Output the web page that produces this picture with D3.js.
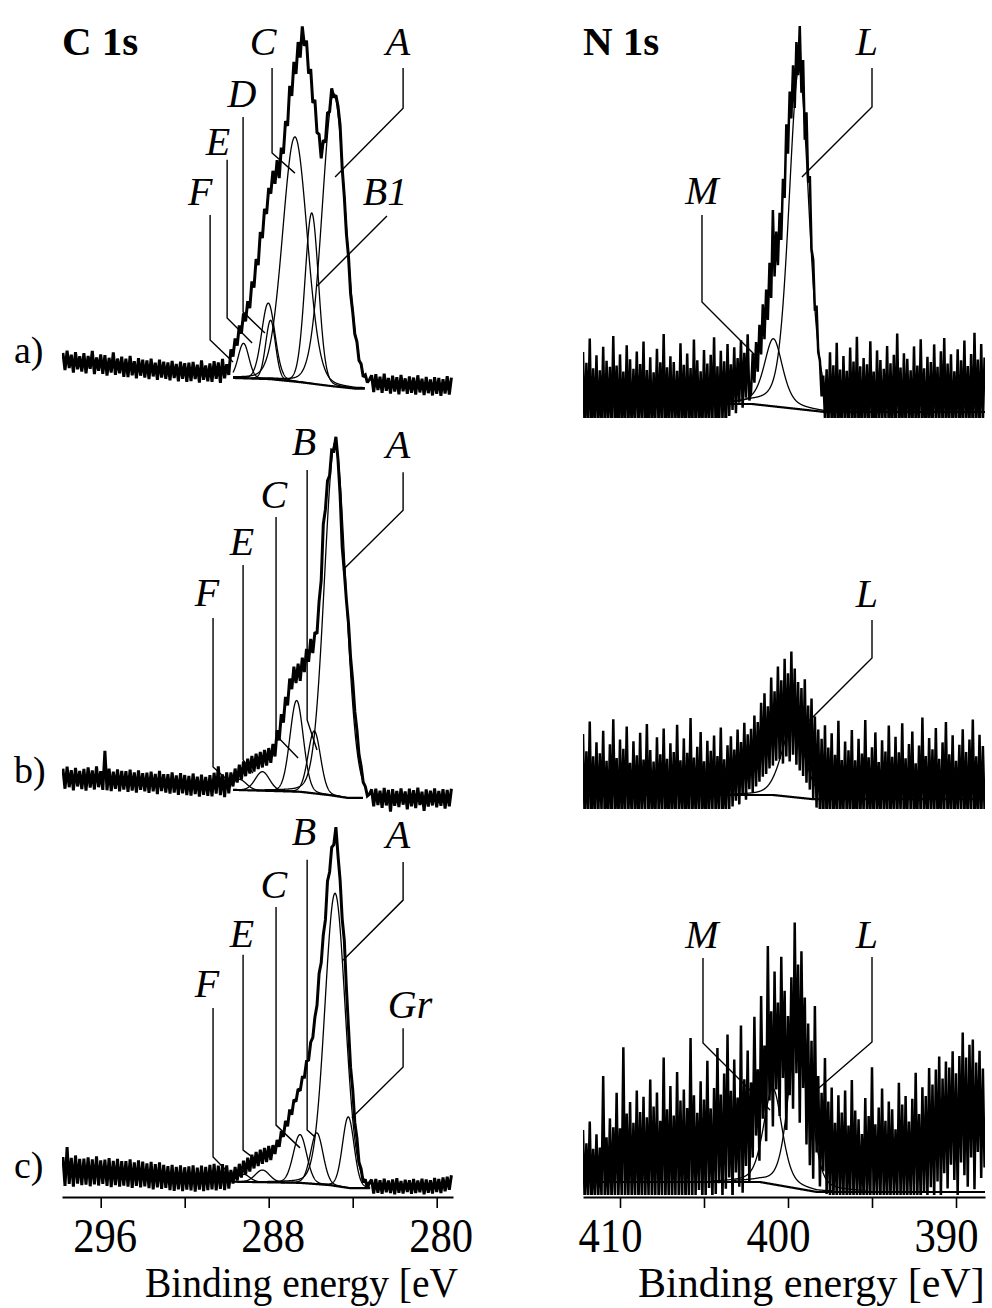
<!DOCTYPE html>
<html><head><meta charset="utf-8">
<script src="https://cdn.jsdelivr.net/npm/d3@7"></script>
<style>
html,body{margin:0;padding:0;background:#fff;}
svg{display:block;background:#fff;}
text{font-family:"Liberation Serif","Times New Roman",serif;fill:#000;}
</style></head><body>
<svg id="chart" width="992" height="1308" font-family="Liberation Serif, Times New Roman, serif"></svg>
<script>
// ---------- energy grids (eV) ----------
const C1S_START = 297.8, C1S_STEP = 0.1;
const N1S_START = 412.2, N1S_STEP = 0.1;

// ---------- measured spectra (arbitrary intensity units) ----------
const c1sA = [
12.4, 7.9, 13.0, 8.4, 11.9, 7.2, 12.6, 8.1, 11.5, 7.5,
12.3, 7.0, 11.6, 8.2, 12.9, 6.8, 11.2, 7.7, 12.0, 6.9,
11.8, 6.4, 11.1, 7.2, 12.5, 6.6, 10.9, 7.0, 11.4, 6.1,
10.9, 6.0, 11.6, 6.5, 10.2, 5.7, 11.0, 6.4, 10.6, 5.9,
10.4, 5.5, 10.9, 6.2, 9.8, 5.3, 10.6, 5.9, 10.1, 5.6,
9.9, 5.2, 10.3, 5.8, 9.5, 4.9, 10.1, 5.6, 9.7, 4.8,
9.8, 5.0, 10.0, 5.5, 9.3, 4.6, 10.4, 5.3, 9.1, 4.9,
9.6, 4.8, 10.2, 5.6, 9.9, 4.5, 10.8, 5.7, 9.4, 6.6,
13.3, 11.4, 16.2, 14.3, 19.6, 17.5, 22.8, 20.7, 26.0, 24.2,
31.2, 29.6, 37.1, 35.5, 44.2, 42.6, 50.3, 49.0, 55.8, 54.3,
60.3, 56.9, 63.1, 58.4, 66.4, 64.8, 73.4, 72.1, 82.7, 80.0,
89.0, 85.8, 94.2, 90.1, 98.3, 93.2, 94.6, 85.9, 87.1, 78.2,
79.0, 70.4, 69.9, 63.6, 68.4, 67.8, 75.5, 75.9, 82.0, 79.6,
80.2, 77.3, 72.3, 60.9, 53.5, 43.8, 37.7, 28.0, 23.2, 17.3,
15.4, 10.4, 9.5, 6.1, 6.6, 4.6, 5.4,
6.5, 2.1, 6.8, 2.6, 6.1, 1.9, 6.9, 2.4, 5.8, 1.7,
6.4, 2.2, 6.0, 1.5, 6.6, 2.3, 5.7, 1.6, 6.2, 1.9,
5.9, 1.4, 6.5, 2.0, 5.6, 1.3, 6.1, 1.8, 5.4, 1.2,
6.0, 1.6, 5.8, 1.1, 5.5, 1.7, 6.3, 1.4, 5.9
];
const c1sB = [
10.9, 5.6, 11.4, 6.0, 10.5, 5.2, 11.1, 6.2, 10.3, 5.5,
10.8, 5.1, 11.2, 5.9, 10.4, 5.4, 11.5, 6.0, 10.2, 5.3,
15.6, 5.2, 10.9, 5.0, 10.1, 5.6, 10.7, 4.9, 10.3, 5.4,
10.2, 4.8, 10.6, 5.1, 9.9, 4.6, 10.4, 5.3, 9.7, 4.9,
9.8, 4.5, 10.1, 4.9, 9.5, 4.2, 10.3, 5.0, 9.4, 4.6,
9.4, 4.3, 9.9, 4.6, 9.1, 4.0, 9.7, 4.4, 9.2, 3.9,
9.0, 3.8, 9.6, 4.2, 8.8, 3.5, 9.3, 4.0, 8.7, 3.7,
9.2, 3.6, 9.8, 4.3, 11.5, 3.9, 9.4, 3.4, 9.9, 4.4,
9.9, 6.2, 10.9, 7.2, 11.9, 8.0, 12.8, 8.9, 13.5, 9.6,
14.2, 10.1, 14.8, 10.8, 15.3, 11.2, 15.8, 11.7, 16.3, 12.4,
17.4, 14.1, 21.0, 18.3, 25.2, 23.0, 29.8, 27.5, 34.6, 31.8,
37.7, 33.4, 38.5, 34.0, 40.1, 36.3, 42.4, 39.0, 45.0, 41.3,
46.8, 46.4, 55.0, 60.4, 75.2, 79.1, 86.6, 88.0, 94.7, 94.5,
98.2, 92.2, 83.0, 69.2, 62.7, 55.2, 49.1, 40.1, 34.0, 26.0,
21.1, 14.6, 11.6, 7.3, 6.2, 3.7, 4.2,
5.4, 1.0, 5.6, 1.3, 5.1, 0.6, 5.8, 1.2, 5.3, -0.4,
5.5, 1.1, 5.0, 0.8, 5.7, 1.4, 4.9, 0.2, 5.6, 1.0,
5.2, 0.5, 5.9, 1.3, 4.8, -0.2, 5.4, 0.9, 5.1, 1.2,
5.7, 0.7, 5.0, 1.1, 5.5, 0.4, 5.3, 1.0, 5.6
];
const c1sC = [
10.0, 2.4, 12.6, 2.9, 9.8, 2.2, 10.4, 3.0, 9.5, 2.6,
9.6, 2.7, 9.9, 2.3, 9.4, 2.8, 10.2, 2.5, 9.1, 2.9,
9.3, 2.4, 9.7, 2.1, 9.0, 2.6, 9.5, 2.2, 8.9, 2.5,
8.9, 2.2, 9.4, 1.9, 8.6, 2.4, 9.1, 2.0, 8.8, 2.3,
8.3, 1.8, 8.7, 1.5, 8.1, 2.0, 8.6, 1.6, 7.9, 1.9,
7.6, 1.3, 7.9, 1.1, 7.4, 1.5, 7.8, 1.0, 7.3, 1.4,
7.5, 1.2, 7.8, 0.9, 7.2, 1.4, 7.7, 1.0, 7.4, 1.3,
7.9, 1.5, 8.2, 1.2, 7.7, 1.6, 8.1, 1.3, 7.8, 1.7,
6.6, 3.0, 7.4, 3.8, 8.2, 4.6, 9.0, 5.4, 9.8, 6.2,
10.6, 7.0, 11.3, 7.6, 11.9, 8.2, 12.4, 8.7, 12.9, 9.2,
13.1, 10.8, 14.5, 12.7, 16.8, 15.3, 19.5, 18.1, 22.5, 21.1,
25.1, 24.6, 27.9, 27.4, 31.0, 31.0, 35.2, 35.5, 40.2, 41.4,
46.8, 49.9, 58.3, 61.1, 68.5, 72.4, 82.6, 85.0, 91.5, 92.2,
96.8, 89.3, 82.9, 72.6, 67.0, 54.4, 44.0, 33.5, 27.8, 19.1,
15.0, 8.6, 6.9, 3.3, 4.1, 1.8, 3.3,
4.0, 0.4, 4.2, 0.6, 3.9, 0.3, 4.3, 0.7, 3.8, 0.5,
4.1, 0.2, 4.4, 0.6, 3.7, 0.4, 4.0, 0.8, 3.9, 0.3,
4.2, 0.5, 3.8, 0.7, 4.3, 0.2, 4.1, 0.6, 3.9, 0.4,
4.5, 0.8, 4.2, 0.5, 4.6, 1.0, 4.8, 1.4, 5.2
];
const n1sA = [
19.5, -1.2, 16.8, 0.5, 22.9, -2.0, 15.4, 1.3, 18.7, -0.6,
14.9, 0.9, 20.8, -1.7, 17.3, 1.8, 15.8, -0.3, 23.5, 0.2,
16.1, -2.4, 18.9, 1.1, 14.6, -0.9, 21.2, 0.7, 17.7, -1.5,
15.3, 2.0, 19.6, -0.4, 16.5, 1.4, 22.1, -2.2, 15.0, 0.6,
18.2, -1.1, 14.4, 1.7, 20.3, -0.2, 16.9, 0.8, 24.0, -1.8,
15.7, 1.2, 18.4, -0.7, 17.0, 2.2, 14.8, -1.4, 21.7, 0.4,
16.3, -0.8, 19.1, 1.5, 15.5, -2.1, 22.6, 0.3, 17.4, 1.0,
14.7, -1.3, 20.0, 0.9, 16.6, -0.5, 18.8, 1.9, 23.2, -1.6,
15.9, 0.1, 19.8, 2.4, 17.2, -1.0, 21.5, 3.5, 16.4, 5.0,
20.7, 4.2, 18.0, 6.8, 22.4, 5.6, 19.3, 8.1, 23.9, 7.4,
9.5, 19.2, 11.8, 22.0, 14.6, 26.3, 18.9, 31.4, 22.7, 35.1,
27.5, 41.8, 33.0, 55.0, 38.4, 49.6, 41.2, 54.3, 47.5, 62.8,
58.0, 76.4, 69.1, 84.6, 77.9, 91.2, 80.5, 97.0, 88.7, 101.0,
84.3, 92.5, 72.6, 79.4, 61.8, 63.5, 45.2, 42.6, 29.8, 31.1,
19.5, 17.3, 8.4, 13.6, 2.9, 15.2,
-0.8, 19.4, 1.2, 16.2, -2.0, 21.8, 0.6, 15.1, -1.3, 18.5,
2.1, 14.8, -0.4, 20.6, 1.0, 17.1, -1.9, 23.3, 0.3, 15.9,
-1.1, 18.0, 1.6, 16.4, -0.6, 22.2, 0.9, 14.6, -2.3, 19.9,
1.4, 17.5, -0.2, 15.3, 2.3, 21.0, -1.5, 16.7, 0.5, 18.8,
-0.9, 24.1, 1.1, 15.6, -1.7, 19.2, 0.2, 17.8, 1.8, 14.9,
-1.2, 20.9, 0.7, 16.1, -0.5, 22.7, 1.3, 15.4, -2.1, 18.3,
0.4, 17.0, -1.0, 21.4, 1.9, 15.8, -0.3, 19.7, 0.8, 23.0,
-1.6, 16.6, 1.5, 18.9, -0.7, 14.7, 2.0, 20.2, -1.4, 17.4,
0.6, 22.4, -0.1, 16.0, 1.2, 19.0, -1.8, 24.3, 0.9, 17.6,
-0.4, 21.5, 1.7, 18.1
];
const n1sB = [
21.5, -1.0, 17.2, 0.8, 24.6, -2.1, 15.9, 1.5, 19.4, -0.5,
16.7, 2.0, 22.3, -1.6, 14.8, 0.3, 18.9, -0.9, 25.2, 1.1,
15.5, -2.3, 20.1, 0.6, 17.8, -1.2, 23.4, 1.7, 14.3, -0.3,
19.7, 1.3, 16.2, -1.8, 21.8, 0.1, 15.1, 2.2, 24.0, -0.7,
17.5, 0.9, 14.6, -1.4, 20.7, 1.6, 16.4, -0.2, 22.9, 0.5,
15.3, -2.0, 19.2, 1.0, 17.0, -0.6, 23.8, 1.9, 14.9, 0.2,
20.4, -1.5, 16.8, 0.7, 25.5, -1.1, 15.6, 1.4, 18.3, -0.4,
22.0, 1.2, 14.7, -1.9, 19.8, 0.4, 17.3, 2.1, 21.1, -0.8,
16.0, 1.8, 23.1, -0.1, 15.2, 0.9, 18.7, 2.6, 20.9, 3.4,
17.6, 4.8, 22.6, 3.9, 19.5, 6.2, 24.3, 5.1, 21.4, 7.7,
22.8, 6.9, 26.1, 8.4, 24.5, 9.6, 29.3, 10.8, 31.7, 11.5,
28.4, 12.9, 35.6, 13.6, 32.2, 14.8, 38.4, 15.2, 34.9, 14.1,
40.3, 15.9, 36.7, 14.6, 42.1, 16.3, 37.9, 13.8, 34.5, 12.4,
33.0, 11.0, 35.2, 9.3, 28.6, 7.6, 30.4, 5.2, 25.9, 3.1,
22.6, 1.0, 20.3, -0.6, 23.7, -1.4,
18.1, 1.5, 21.7, -0.9, 16.3, 0.8, 24.8, -1.7, 15.0, 2.0,
19.6, -0.4, 17.4, 1.2, 22.5, -2.2, 14.9, 0.6, 20.3, -1.0,
16.6, 1.8, 25.0, -0.3, 15.7, 0.9, 18.2, -1.5, 21.9, 1.4,
14.5, -0.8, 19.9, 2.3, 17.1, -1.9, 23.6, 0.2, 15.8, 1.1,
20.8, -0.6, 16.9, 1.7, 24.2, -1.2, 15.4, 0.5, 19.0, 2.1,
22.1, -1.6, 14.2, 0.9, 18.6, -0.2, 25.6, 1.3, 16.0, -1.1,
20.5, 1.9, 17.7, -0.7, 23.0, 0.4, 15.3, -1.8, 19.4, 1.6,
24.5, -0.5, 16.4, 1.0, 21.2, -1.3, 14.8, 2.2, 18.8, -0.1,
22.7, 0.7, 17.0, -1.4, 20.1, 1.5, 25.1, -0.9, 15.9, 0.3,
21.3, -1.0, 18.5, 2.4
];
const n1sC = [
17.5, -0.8, 14.2, 0.3, 19.6, -1.5, 12.8, 0.9, 16.4, -0.4,
13.1, 0.6, 31.0, -1.1, 15.7, 0.2, 20.4, -0.9, 18.2, 0.7,
26.8, -0.3, 17.9, 1.0, 38.2, -1.4, 21.6, 0.4, 24.5, -0.7,
19.3, 0.8, 27.4, -1.2, 22.0, 0.1, 25.8, -0.6, 20.7, 0.9,
30.1, -1.0, 23.4, 0.5, 26.9, -0.2, 19.8, 0.6, 35.6, -1.3,
22.7, 0.3, 28.5, -0.8, 21.1, 1.1, 32.0, -0.5, 24.9, 0.2,
27.6, -1.1, 23.0, 0.7, 40.5, -0.4, 26.2, 1.2, 21.8, 2.5,
29.7, -0.9, 25.1, 0.8, 34.8, 3.0, 22.9, -0.3, 28.0, 1.5,
38.0, 4.2, 26.4, 0.4, 31.6, 2.8, 41.4, 5.6, 27.3, -0.6,
35.1, 6.9, 25.6, 3.3, 43.6, 1.8, 30.2, 8.5, 37.4, 4.7,
29.4, 10.6, 45.8, 16.1, 32.7, 9.8, 51.0, 20.3, 38.6, 14.7,
63.5, 24.9, 47.2, 18.4, 57.1, 27.6, 49.4, 21.0, 60.8, 30.5,
52.3, 17.5, 46.0, 26.2, 55.7, 22.8, 69.4, 31.7, 58.9, 19.3,
62.2, 28.0, 50.6, 13.9, 44.1, 8.7, 39.8, 5.3, 48.5, 11.9,
31.0, 3.4, 26.8, 7.2, 35.5, 1.5,
24.6, 0.4, 28.1, -0.8, 19.3, 0.9, 26.2, -0.3, 21.9, 0.6,
27.4, -1.0, 18.6, 0.2, 30.0, -0.5, 22.4, 1.0, 20.2, -0.7,
16.5, 0.5, 25.5, -1.2, 21.0, 0.3, 33.2, -0.4, 18.9, 0.8,
23.1, -0.9, 27.9, 0.6, 19.8, -1.3, 24.6, 0.1, 22.7, 1.2,
17.7, -0.6, 29.3, 0.7, 23.9, -1.0, 26.0, 0.4, 19.6, 0.9,
25.3, -0.2, 31.8, 1.1, 21.5, -0.8, 28.2, 2.0, 26.0, 0.5,
33.0, 3.2, 28.9, 0.3, 32.6, 4.6, 35.9, 1.0, 30.4, 6.7,
34.6, 2.9, 33.1, 8.8, 37.2, 5.0, 31.7, 1.2, 36.0, 9.4,
41.9, 6.2, 35.6, 3.3, 38.8, 10.6, 40.1, 2.7, 34.4, 12.0,
37.3, 5.5, 32.9, 8.1
];

// ---------- fitted components: centre (eV), height, FWHM (eV), Lorentzian fraction ----------
const c1sA_center = [289.2, 288.02, 287.91, 286.75, 285.95, 284.9];
const c1sA_height = [9.2, 20.0, 15.5, 64.4, 44.9, 77.0];
const c1sA_fwhm   = [0.6, 0.75, 0.55, 1.38, 0.76, 1.3];
const c1sA_eta    = [0.1, 0.1, 0.1, 0.1, 0.1, 0.1];
const c1sA_bgE = [289.70, 287.94, 286.51, 285.08, 283.89, 283.42];
const c1sA_bgV = [5.8, 5.5, 4.7, 3.7, 3.0, 3.0];

const c1sB_center = [289.4, 288.3, 286.67, 285.83, 284.84];
const c1sB_height = [2.8, 5.0, 24.0, 16.4, 93.0];
const c1sB_fwhm   = [0.8, 0.8, 0.75, 0.7, 1.2];
const c1sB_eta    = [0.1, 0.1, 0.1, 0.1, 0.1];
const c1sB_bgE = [289.70, 286.51, 285.08, 284.27, 283.51];
const c1sB_bgV = [5.3, 4.8, 3.9, 3.2, 3.2];

const c1sC_center = [289.2, 288.3, 286.51, 285.71, 284.84, 284.21];
const c1sC_height = [2.0, 3.2, 12.7, 13.5, 77.0, 18.7];
const c1sC_fwhm   = [0.7, 0.8, 0.75, 0.7, 1.15, 0.65];
const c1sC_eta    = [0.1, 0.1, 0.1, 0.1, 0.1, 0.1];
const c1sC_bgE = [289.70, 286.51, 285.08, 284.13, 283.17];
const c1sC_bgV = [3.5, 3.2, 2.6, 1.8, 1.8];

const n1sA_center = [400.87, 399.35];
const n1sA_height = [16.9, 85.0];
const n1sA_fwhm   = [1.3, 1.4];
const n1sA_eta    = [0.5, 0.3];
const n1sA_bgE = [412.2, 402.14, 397.8, 388.27];
const n1sA_bgV = [6.5, 6.5, 4.5, 4.5];

const n1sB_center = [399.7];
const n1sB_height = [18.0];
const n1sB_fwhm   = [1.6];
const n1sB_eta    = [0.3];
const n1sB_bgE = [412.2, 400.89, 398.51, 388.27];
const n1sB_bgV = [6.25, 6.25, 5.2, 5.2];

const n1sC_center = [400.9, 399.3];
const n1sC_height = [24.0, 45.0];
const n1sC_fwhm   = [1.3, 1.4];
const n1sC_eta    = [0.4, 0.3];
const n1sC_bgE = [412.2, 401.67, 398.27, 388.27];
const n1sC_bgV = [4.5, 4.5, 2.0, 2.0];

// ---------- axis ticks ----------
const c1sTicks = [296, 292, 288, 284, 280];
const c1sTickLabels = [296, 288, 280];
const n1sTicks = [410, 405, 400, 395, 390];
const n1sTickLabels = [410, 400, 390];
const axisTitleC = "Binding energy [eV";
const axisTitleN = "Binding energy [eV]";

// ---------- annotations (data coordinates: eV, intensity) ----------
const c1sA_labText = ["C", "A", "D", "E", "F", "B1"];
const c1sA_labE = [288.27, 281.84, 289.27, 290.41, 291.26, 282.46];
const c1sA_labV = [90.8, 90.8, 77.1, 64.5, 51.3, 51.3];
const c1sA_leaders = [
  [[287.84,87.4],[287.84,65.0],[286.75,59.7]],
  [[281.60,87.4],[281.60,76.8],[284.84,58.7]],
  [[289.22,74.5],[289.22,23.2],[288.18,17.6]],
  [[289.98,63.2],[289.98,21.6],[288.79,15.0]],
  [[290.79,48.7],[290.79,15.8],[289.70,10.0]],
  [[282.37,48.4],[285.70,30.0]]
];
const c1sB_labText = ["B", "A", "C", "E", "F"];
const c1sB_labE = [286.32, 281.84, 287.75, 289.27, 290.94];
const c1sB_labV = [93.4, 92.6, 79.5, 67.1, 53.7];
const c1sB_leaders = [
  [[286.17,89.5],[286.17,23.7],[285.70,15.8]],
  [[281.60,88.9],[281.60,78.9],[284.46,63.2]],
  [[287.65,77.1],[287.65,19.7],[286.60,13.7]],
  [[289.22,64.5],[289.22,13.2],[288.75,9.7]],
  [[290.65,50.5],[290.65,11.3],[289.70,6.6]]
];
const c1sC_labText = ["B", "A", "C", "E", "F", "Gr"];
const c1sC_labE = [286.32, 281.84, 287.75, 289.27, 290.94, 281.27];
const c1sC_labV = [92.1, 91.3, 78.2, 65.3, 52.1, 46.6];
const c1sC_leaders = [
  [[286.17,88.2],[286.17,17.1],[285.80,15.3]],
  [[281.60,87.6],[281.60,77.6],[284.46,61.8]],
  [[287.65,75.8],[287.65,18.4],[286.51,12.4]],
  [[289.22,63.2],[289.22,11.8],[288.41,8.4]],
  [[290.65,49.2],[290.65,10.0],[289.70,4.7]],
  [[281.60,43.9],[281.60,33.7],[284.04,20.3]]
];
const n1sA_labText = ["L", "M"];
const n1sA_labE = [395.30, 405.12];
const n1sA_labV = [93.75, 56.5];
const n1sA_leaders = [
  [[395.0,90.5],[395.0,80.75],[399.17,63.25]],
  [[405.12,53.75],[405.12,32.0],[401.85,18.25]]
];
const n1sB_labText = ["L"];
const n1sB_labE = [395.30];
const n1sB_labV = [53.25];
const n1sB_leaders = [
  [[395.0,50.0],[395.0,40.5],[399.11,23.25]]
];
const n1sC_labText = ["M", "L"];
const n1sC_labE = [405.12, 395.30];
const n1sC_labV = [63.0, 63.0];
const n1sC_leaders = [
  [[405.06,60.5],[405.06,39.25],[401.07,22.5]],
  [[395.0,60.75],[395.0,39.5],[398.51,26.75]]
];

// ---------- layout ----------
const AXIS_Y = 1197;
const leftX = {domain:[297.843, 279.224], range:[62, 453]};
const rightX = {domain:[412.202, 388.274], range:[583, 985]};
const FONT = "Liberation Serif, Times New Roman, serif";

const svg = d3.select("#chart");
const defs = svg.append("defs");

function pseudoVoigt(e, c, h, w, eta) {
  const t = (e - c) / w;
  return h * (eta / (1 + 4 * t * t) + (1 - eta) * Math.exp(-4 * Math.LN2 * t * t));
}

let clipCount = 0;
function drawPanel(p) {
  const x = d3.scaleLinear().domain(p.xs.domain).range(p.xs.range);
  const y = d3.scaleLinear().domain([0, 100]).range(p.yRange);
  const g = svg.append("g");
  const id = "clip" + (clipCount++);
  defs.append("clipPath").attr("id", id).append("rect")
    .attr("x", p.xs.range[0]).attr("y", 0)
    .attr("width", p.xs.range[1] - p.xs.range[0]).attr("height", p.clipBottom);
  const plot = g.append("g").attr("clip-path", "url(#" + id + ")");
  const line = d3.line().x(d => x(d[0])).y(d => y(d[1]));

  const bg = d3.scaleLinear().domain(p.bgE).range(p.bgV).clamp(true);
  const eHi = d3.max(p.bgE), eLo = d3.min(p.bgE);

  // fitted components
  p.center.forEach((c, k) => {
    const w = p.fwhm[k];
    const a = Math.max(eLo, c - 2.8 * w), b = Math.min(eHi, c + 2.8 * w);
    const pts = d3.range(a, b, 0.01).concat([b]).map(e => [e, bg(e) + pseudoVoigt(e, c, p.height[k], w, p.eta[k])]);
    plot.append("path").attr("d", line(pts))
      .attr("fill", "none").attr("stroke", "#000").attr("stroke-width", 1.3);
  });
  // background
  const bgPts = d3.range(eLo, eHi, 0.02).concat([eHi]).map(e => [e, bg(e)]);
  plot.append("path").attr("d", line(bgPts))
    .attr("fill", "none").attr("stroke", "#000").attr("stroke-width", 2.2);

  // measured spectrum
  const dataPts = p.data.map((v, i) => [p.start - i * p.step, v]);
  plot.append("path").attr("d", line(dataPts))
    .attr("fill", "none").attr("stroke", "#000").attr("stroke-width", p.dataWidth)
    .attr("stroke-linejoin", "miter").attr("stroke-miterlimit", 2);

  // leader lines and labels
  p.leaders.forEach(l => {
    g.append("path").attr("d", line(l))
      .attr("fill", "none").attr("stroke", "#000").attr("stroke-width", 1.4);
  });
  p.labText.forEach((t, k) => {
    g.append("text").attr("x", x(p.labE[k])).attr("y", y(p.labV[k]))
      .attr("text-anchor", "middle").attr("font-style", "italic")
      .attr("font-family", FONT).attr("font-size", 40).text(t);
  });
  if (p.rowLabel) {
    g.append("text").attr("x", 14).attr("y", y(p.rowLabelV))
      .attr("font-family", FONT).attr("font-size", 38).text(p.rowLabel);
  }
  if (p.title) {
    g.append("text").attr("x", p.xs.range[0]).attr("y", 55)
      .attr("font-family", FONT).attr("font-size", 41).attr("font-weight", "bold").text(p.title);
  }
  return x;
}

drawPanel({xs:leftX, yRange:[400,20], clipBottom:430, data:c1sA, start:C1S_START, step:C1S_STEP, dataWidth:3.0,
  center:c1sA_center, height:c1sA_height, fwhm:c1sA_fwhm, eta:c1sA_eta, bgE:c1sA_bgE, bgV:c1sA_bgV,
  labText:c1sA_labText, labE:c1sA_labE, labV:c1sA_labV, leaders:c1sA_leaders,
  rowLabel:"a)", rowLabelV:9.7, title:"C 1s"});
drawPanel({xs:leftX, yRange:[810,430], clipBottom:830, data:c1sB, start:C1S_START, step:C1S_STEP, dataWidth:3.0,
  center:c1sB_center, height:c1sB_height, fwhm:c1sB_fwhm, eta:c1sB_eta, bgE:c1sB_bgE, bgV:c1sB_bgV,
  labText:c1sB_labText, labE:c1sB_labE, labV:c1sB_labV, leaders:c1sB_leaders,
  rowLabel:"b)", rowLabelV:7.1});
const xL = drawPanel({xs:leftX, yRange:[1195,815], clipBottom:1196, data:c1sC, start:C1S_START, step:C1S_STEP, dataWidth:3.0,
  center:c1sC_center, height:c1sC_height, fwhm:c1sC_fwhm, eta:c1sC_eta, bgE:c1sC_bgE, bgV:c1sC_bgV,
  labText:c1sC_labText, labE:c1sC_labE, labV:c1sC_labV, leaders:c1sC_leaders,
  rowLabel:"c)", rowLabelV:4.5});

drawPanel({xs:rightX, yRange:[430,30], clipBottom:418, data:n1sA, start:N1S_START, step:N1S_STEP, dataWidth:2.5,
  center:n1sA_center, height:n1sA_height, fwhm:n1sA_fwhm, eta:n1sA_eta, bgE:n1sA_bgE, bgV:n1sA_bgV,
  labText:n1sA_labText, labE:n1sA_labE, labV:n1sA_labV, leaders:n1sA_leaders, title:"N 1s"});
drawPanel({xs:rightX, yRange:[820,420], clipBottom:809, data:n1sB, start:N1S_START, step:N1S_STEP, dataWidth:2.5,
  center:n1sB_center, height:n1sB_height, fwhm:n1sB_fwhm, eta:n1sB_eta, bgE:n1sB_bgE, bgV:n1sB_bgV,
  labText:n1sB_labText, labE:n1sB_labE, labV:n1sB_labV, leaders:n1sB_leaders});
const xR = drawPanel({xs:rightX, yRange:[1200,800], clipBottom:1195, data:n1sC, start:N1S_START, step:N1S_STEP, dataWidth:2.5,
  center:n1sC_center, height:n1sC_height, fwhm:n1sC_fwhm, eta:n1sC_eta, bgE:n1sC_bgE, bgV:n1sC_bgV,
  labText:n1sC_labText, labE:n1sC_labE, labV:n1sC_labV, leaders:n1sC_leaders});

// ---------- axes ----------
function drawAxis(x, ticks, labels, dx, title, titleX, titleLen) {
  const ax = d3.axisBottom(x).tickValues(ticks).tickSize(11).tickSizeOuter(0)
    .tickFormat(d => labels.includes(d) ? String(d) : "");
  const g = svg.append("g").attr("transform", "translate(0," + AXIS_Y + ")").call(ax);
  g.attr("font-family", FONT).attr("font-size", null);
  g.select(".domain").attr("stroke", "#000").attr("stroke-width", 2);
  g.selectAll(".tick line").attr("stroke", "#000").attr("stroke-width", 1.6);
  g.selectAll(".tick text")
    .attr("y", 55).attr("dy", null).attr("dx", dx)
    .attr("font-family", FONT).attr("font-size", 48).attr("fill", "#000")
    .filter(function(){ return this.textContent.length > 0; })
    .attr("textLength", 64).attr("lengthAdjust", "spacingAndGlyphs");
  const t = svg.append("text").attr("x", titleX).attr("y", 1297)
    .attr("font-family", FONT).attr("font-size", 42).text(title);
  if (titleLen) t.attr("textLength", titleLen).attr("lengthAdjust", "spacingAndGlyphs");
}
drawAxis(xL, c1sTicks, c1sTickLabels, 4, axisTitleC, 145, 313);
drawAxis(xR, n1sTicks, n1sTickLabels, -10, axisTitleN, 638, null);
</script>
</body></html>
